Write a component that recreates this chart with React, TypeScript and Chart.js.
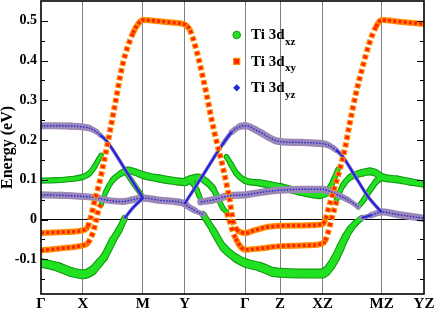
import React, { useEffect, useRef } from "react";
import { Chart, registerables } from "chart.js";

Chart.register(...registerables);

// [k-path position, energy (eV), orbital weight 0..1]
type Pt = [number, number, number];

// High-symmetry points along the k-path
const kPoints = [0, 41.8, 101.8, 143.5, 203.8, 238.8, 281.2, 340.2, 382.5];
const kLabels = ["Γ", "X", "M", "Y", "Γ", "Z", "XZ", "MZ", "YZ"];

// Energy axis
const energyMin = -0.1875;
const energyMax = 0.55;
const energyTicks = [-0.1, 0, 0.1, 0.2, 0.3, 0.4, 0.5];
const energyMinorTicks = [-0.15, -0.05, 0.05, 0.15, 0.25, 0.35, 0.45];

const seriesNames = ["Ti 3d", "Ti 3d", "Ti 3d"];
const seriesSubs = ["xz", "xy", "yz"];

// ---- Ti 3d_xz (green) ----
const xzBand1: Pt[] = [[0,0.098,0.45],[15,0.099,0.45],[30,0.102,0.45],[41.8,0.107,0.45],[48.2,0.116,0.42],[53.2,0.132,0.4],[58.2,0.154,0.35],[60,0.162,0.3]];
const xzBand2: Pt[] = [[59.8,0.035,0.3],[64.8,0.070,0.35],[71.5,0.099,0.4],[79.8,0.116,0.5],[86.5,0.124,0.6],[93.5,0.120,0.65],[101.8,0.112,0.7],[118.5,0.103,0.75],[133.5,0.097,0.75],[143.5,0.094,0.75],[148.5,0.101,0.7],[156.8,0.106,0.65],[165.2,0.095,0.6],[171.8,0.078,0.5],[176.8,0.053,0.4],[181.8,0.028,0.35],[185.5,0.018,0.3]];
const xzBand3: Pt[] = [[145.5,0.100,0.5],[151.5,0.092,0.45],[155.5,0.075,0.4],[158,0.060,0.35],[160,0.046,0.3]];
const xzBand4: Pt[] = [[83.5,0.124,0.35],[92.5,0.090,0.35],[101.8,0.056,0.3]];
const xzBand5: Pt[] = [[0,-0.109,0.9],[16.5,-0.119,0.95],[29.8,-0.132,1],[41.8,-0.138,1],[51.5,-0.128,0.9],[58.5,-0.108,0.8],[63.2,-0.094,0.75],[71.8,-0.052,0.7],[78.2,-0.025,0.6],[83.5,0.003,0.5]];
const xzBand6: Pt[] = [[161.8,0.013,0.5],[171.8,-0.027,0.6],[181.8,-0.069,0.7],[195.2,-0.098,0.85],[203.8,-0.109,0.9],[218.5,-0.119,0.95],[231.8,-0.132,1],[238.8,-0.134,1],[258.5,-0.136,1],[281.2,-0.136,1],[284.5,-0.131,0.95],[289.5,-0.116,0.9],[294.5,-0.095,0.85],[299.5,-0.068,0.8],[304.5,-0.042,0.7],[309.5,-0.022,0.6],[314.5,-0.008,0.5],[320.5,0.004,0.4]];
const xzBand7: Pt[] = [[185.2,0.158,0.35],[189.5,0.140,0.4],[195.2,0.116,0.45],[203.8,0.098,0.5],[218.5,0.092,0.6],[238.8,0.082,0.7],[258.5,0.070,0.7],[278.5,0.061,0.65],[284.5,0.066,0.55],[288.5,0.080,0.45],[293,0.104,0.4],[296.5,0.126,0.35]];
const xzBand8: Pt[] = [[295.2,0.050,0.35],[301.5,0.086,0.4],[308.5,0.106,0.5],[314.5,0.113,0.6],[321.8,0.118,0.65],[328.5,0.121,0.7],[334.5,0.117,0.7],[340.2,0.107,0.7],[355.2,0.101,0.7],[368.5,0.095,0.65],[382.5,0.089,0.6]];
const xzBand9: Pt[] = [[316.8,0.032,0.35],[322.5,0.050,0.4],[328.5,0.074,0.45],[334.5,0.095,0.5],[340.2,0.107,0.55]];

// ---- Ti 3d_xy (orange) ----
const xyBand1: Pt[] = [[0,-0.034,1],[18.5,-0.032,1],[41.8,-0.027,1],[46.5,-0.019,1],[49.8,0.007,1],[53.8,0.049,1],[58.2,0.091,1],[62.5,0.141,1],[66.5,0.191,1],[73.2,0.280,1],[81.8,0.393,1],[91.8,0.469,1],[97.8,0.495,1],[101.8,0.502,1],[118.5,0.499,1],[133.5,0.495,1],[143.5,0.491,1],[148.5,0.478,1],[155.2,0.426,1],[165.2,0.317,1],[170.5,0.250,1],[175.5,0.195,1],[179,0.160,1],[181.8,0.130,1],[185.2,0.090,1],[188.5,0.049,1],[190.5,0.015,1],[192.5,-0.010,1],[195.5,-0.025,1],[199.5,-0.032,1],[203.8,-0.034,1],[213.5,-0.027,1],[223.5,-0.020,1],[238.8,-0.016,1],[258.5,-0.015,1],[281.2,-0.012,1],[284,0.000,1],[288.5,0.040,1],[293.5,0.083,1],[298.5,0.127,1],[303.5,0.178,1],[307.8,0.235,1],[314.5,0.317,1],[321.2,0.384,1],[327.8,0.443,1],[334.5,0.485,1],[340.2,0.502,1],[357.8,0.498,1],[382.5,0.492,1]];
const xyBand2: Pt[] = [[0,-0.078,1],[18.5,-0.073,1],[41.8,-0.065,1],[46.5,-0.060,1],[51.5,-0.035,1],[54.8,-0.006,1],[57.2,0.023,1],[59.8,0.038,1]];
const xyBand3: Pt[] = [[185.5,0.018,1],[188.5,-0.005,1],[191.5,-0.030,1],[194.5,-0.048,1],[199.5,-0.069,1],[203.8,-0.076,1],[218.5,-0.073,1],[238.8,-0.067,1],[265.2,-0.065,1],[281.2,-0.060,1],[283.5,-0.055,1],[286.5,-0.035,1],[289.5,-0.005,1],[292.5,0.022,1],[295.2,0.047,1]];

// ---- Ti 3d_yz (blue / mauve) ----
const yzBand1: Pt[] = [[0,0.236,1],[15,0.236,1],[30,0.235,1],[41.8,0.233,0.95],[48.5,0.230,0.8],[55.2,0.221,0.55],[59.5,0.212,0.35],[64.8,0.200,0.2],[83.8,0.127,0.1],[101.8,0.054,0.15]];
const yzBand2: Pt[] = [[0,0.062,1],[20,0.061,1],[41.8,0.058,0.95],[54.8,0.055,0.85],[69.8,0.047,0.85],[81.5,0.045,0.85],[90,0.049,0.9],[101.8,0.054,1],[120,0.048,1],[143.5,0.040,1],[145.2,0.036,0.9],[153.5,0.023,0.7],[161.8,0.013,0.4]];
const yzBand3: Pt[] = [[83.5,0.003,0.1],[92,0.030,0.1],[101.8,0.054,0.15]];
const yzBand4: Pt[] = [[143.5,0.040,0.15],[161.8,0.112,0.1],[181.8,0.191,0.25],[190.5,0.220,0.55],[198.5,0.234,0.85],[203.8,0.236,1],[217.8,0.221,1],[232.8,0.200,1],[238.8,0.196,1],[258.5,0.194,1],[281.2,0.191,1],[287,0.187,0.8],[294.5,0.175,0.5],[300.2,0.162,0.25],[315.2,0.103,0.1],[326.8,0.057,0.1],[340.2,0.018,0.2]];
const yzBand5: Pt[] = [[320.5,0.004,0.3],[330,0.011,0.6],[340.2,0.019,1],[355.2,0.013,1],[368.5,0.008,1],[382.5,0.003,1]];
const yzBand6: Pt[] = [[159.5,0.044,0.9],[171.5,0.049,1],[188.5,0.060,1],[203.8,0.062,1],[218.5,0.068,1],[238.8,0.074,1],[260,0.076,1],[281.2,0.076,1],[287,0.072,0.9],[293.5,0.065,0.8],[306.8,0.049,0.6],[316.8,0.032,0.4]];

const xzBands = [xzBand1, xzBand2, xzBand3, xzBand4, xzBand5, xzBand6, xzBand7, xzBand8, xzBand9];
const xyBands = [xyBand1, xyBand2, xyBand3];
const yzBands = [yzBand1, yzBand2, yzBand3, yzBand4, yzBand5, yzBand6];

const FONT = "'Liberation Serif', 'Times New Roman', serif";
const GREEN_EDGE = "#129a12";
const GREEN_FILL = "#22e022";
const ORANGE = "#ff8c00";
const RED = "#ff2000";
const MAUVE = "#9b88b6";
const BLUE = "#2424e0";

function band(pts: Pt[], color: string, order: number, width: (w: number) => number, extraSeg: any = {}, extra: any = {}) {
  return {
    type: "line",
    data: pts.map((p) => ({ x: p[0], y: p[1] })),
    borderColor: color,
    borderWidth: width(1),
    pointRadius: 0,
    pointHoverRadius: 0,
    fill: false,
    cubicInterpolationMode: "monotone",
    borderCapStyle: "round",
    borderJoinStyle: "round",
    order,
    segment: {
      borderWidth: (c: any) => width((pts[c.p0DataIndex][2] + pts[c.p1DataIndex][2]) / 2),
      ...extraSeg,
    },
    ...extra,
  };
}

const steep = (c: any) => Math.abs(c.p1.y - c.p0.y) > 1.8 * Math.abs(c.p1.x - c.p0.x);
const meanW = (pts: Pt[], c: any) => (pts[c.p0DataIndex][2] + pts[c.p1DataIndex][2]) / 2;

function buildDatasets() {
  const ds: any[] = [];
  xzBands.forEach((pts) => {
    ds.push(band(pts, GREEN_EDGE, 6, (w) => 3 + 7 * w));
    ds.push(band(pts, GREEN_FILL, 5, (w) => Math.max(1, 0.8 + 7 * w)));
  });
  yzBands.forEach((pts) => {
    ds.push(band(pts, MAUVE, 4, (w) => 3 + 4.2 * w));
    ds.push(
      band(pts, BLUE, 3, (w) => (w < 0.45 ? 2.3 : 1.4), {
        borderDash: (c: any) => (meanW(pts, c) < 0.45 ? [] : [1.5, 1.5]),
      }, { borderCapStyle: "butt" })
    );
  });
  xyBands.forEach((pts) => {
    ds.push(
      band(pts, ORANGE, 2, () => 6, {
        borderDash: (c: any) => (steep(c) ? [5, 2.5] : []),
      }, { borderCapStyle: "butt" })
    );
    ds.push(
      band(pts, RED, 1, () => 3.4, {
        borderDash: (c: any) => (steep(c) ? [3, 4.5] : [3, 2.2]),
        borderDashOffset: (c: any) => (steep(c) ? -1 : 0),
      }, { borderCapStyle: "butt" })
    );
  });
  return ds;
}

const decorPlugin = {
  id: "decor",
  afterDraw(chart: any) {
    const { ctx, chartArea: a } = chart;
    const ys = chart.scales.y;
    ctx.save();
    ctx.strokeStyle = "#000";
    ctx.lineWidth = 1;
    const tick = (v: number, len: number) => {
      const py = Math.round(ys.getPixelForValue(v)) + 0.5;
      ctx.beginPath();
      ctx.moveTo(a.left, py);
      ctx.lineTo(a.left + len, py);
      ctx.moveTo(a.right, py);
      ctx.lineTo(a.right - len, py);
      ctx.stroke();
    };
    energyTicks.forEach((v) => tick(v, 7));
    energyMinorTicks.forEach((v) => tick(v, 4));
    ctx.lineWidth = 1.6;
    ctx.strokeRect(a.left, a.top, a.right - a.left, a.bottom - a.top);

    // legend
    const lx = 236.7;
    const tx = 251;
    seriesSubs.forEach((sub, i) => {
      const cy = 35 + i * 26.4;
      if (i === 0) {
        ctx.beginPath();
        ctx.arc(lx, cy, 3.8, 0, Math.PI * 2);
        ctx.fillStyle = GREEN_FILL;
        ctx.fill();
        ctx.lineWidth = 1;
        ctx.strokeStyle = GREEN_EDGE;
        ctx.stroke();
      } else if (i === 1) {
        ctx.fillStyle = RED;
        ctx.fillRect(lx - 3, cy - 3, 6, 6);
        ctx.lineWidth = 1.2;
        ctx.strokeStyle = ORANGE;
        ctx.strokeRect(lx - 3, cy - 3, 6, 6);
      } else {
        ctx.beginPath();
        ctx.moveTo(lx, cy - 3.6);
        ctx.lineTo(lx + 3.6, cy);
        ctx.lineTo(lx, cy + 3.6);
        ctx.lineTo(lx - 3.6, cy);
        ctx.closePath();
        ctx.fillStyle = BLUE;
        ctx.fill();
      }
      ctx.fillStyle = "#000";
      ctx.textAlign = "left";
      ctx.textBaseline = "alphabetic";
      ctx.font = `bold 15px ${FONT}`;
      ctx.fillText(seriesNames[i], tx, cy + 4.4);
      const w = ctx.measureText(seriesNames[i]).width;
      ctx.font = `bold 11px ${FONT}`;
      ctx.fillText(sub, tx + w + 0.5, cy + 10);
    });
    ctx.restore();
  },
};

export default function App() {
  const ref = useRef<HTMLCanvasElement>(null);
  useEffect(() => {
    const chart = new Chart(ref.current as HTMLCanvasElement, {
      type: "line",
      data: { datasets: buildDatasets() },
      options: {
        animation: false,
        responsive: false,
        devicePixelRatio: 1,
        events: [],
        layout: { padding: { left: 0, right: 12, top: 1, bottom: 0 } },
        plugins: { legend: { display: false }, tooltip: { enabled: false } },
        scales: {
          x: {
            type: "linear",
            min: kPoints[0],
            max: kPoints[kPoints.length - 1],
            afterBuildTicks: (s: any) => {
              s.ticks = kPoints.map((v) => ({ value: v }));
            },
            afterFit: (s: any) => {
              s.height = 16;
              s.paddingLeft = 0;
              s.paddingRight = 0;
            },
            ticks: {
              autoSkip: false,
              maxRotation: 0,
              padding: 1,
              color: "#000",
              font: { family: FONT, size: 15, weight: "bold" },
              callback: (_v: any, i: number) => kLabels[i],
            },
            grid: {
              drawTicks: false,
              lineWidth: 1,
              color: (c: any) => (c.index === 0 || c.index === kPoints.length - 1 ? "rgba(0,0,0,0)" : "#808080"),
            },
            border: { display: false },
          },
          y: {
            type: "linear",
            min: energyMin,
            max: energyMax,
            afterBuildTicks: (s: any) => {
              s.ticks = energyTicks.map((v) => ({ value: v }));
            },
            afterFit: (s: any) => {
              s.width = 41;
              s.paddingTop = 0;
              s.paddingBottom = 0;
            },
            ticks: {
              padding: 4,
              color: "#000",
              font: { family: FONT, size: 14, weight: "bold" },
              callback: (v: any) => (Math.abs(v) < 1e-9 ? "0" : Number(v).toFixed(1)),
            },
            grid: {
              drawTicks: false,
              lineWidth: 1,
              color: (c: any) => (c.tick && Math.abs(c.tick.value) < 1e-9 ? "#000" : "rgba(0,0,0,0)"),
            },
            border: { display: false },
            title: {
              display: true,
              text: "Energy (eV)",
              color: "#000",
              padding: { top: 0, bottom: 0 },
              font: { family: FONT, size: 16, weight: "bold", lineHeight: 1 },
            },
          },
        },
      } as any,
      plugins: [decorPlugin],
    } as any);
    return () => chart.destroy();
  }, []);
  return (
    <div style={{ position: "fixed", left: 0, top: 0, width: 436, height: 310, background: "#fff" }}>
      <canvas ref={ref} width={436} height={310} style={{ width: 436, height: 310, display: "block" }} />
    </div>
  );
}
